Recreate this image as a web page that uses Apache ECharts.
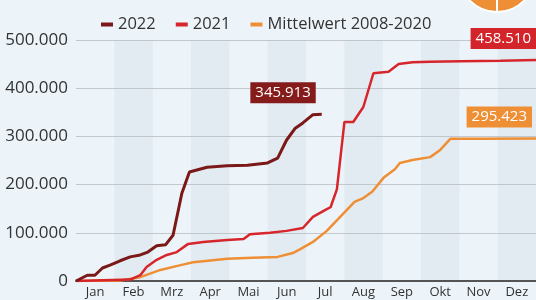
<!DOCTYPE html>
<html lang="de">
<head>
    <meta charset="UTF-8">
    <title>Waldbrand Fläche</title>
    <style type="text/css">
        html,body{margin:0;padding:0;background:#edf4f9;}
        #main{width:536px;height:300px;}
    </style>
</head>
<body>
<div id="main"></div>
<script src="https://cdn.jsdelivr.net/npm/echarts@6/dist/echarts.min.js"></script>
<script>
    // Tag im Jahr / kumulierte Fläche (Hektar)
    var months = ['Jan','Feb','Mrz','Apr','Mai','Jun','Jul','Aug','Sep','Okt','Nov','Dez'];
    var yTicks = [0, 100000, 200000, 300000, 400000, 500000];

    var days2022 = [0,9,15,21,27,35,43,51,57,64,71,77,84,90,104,120,136,152,160,167,174,180,188,195];
    var vals2022 = [0,12000,12000,27000,33000,42000,50000,54000,60000,73000,75000,95000,182000,226000,236000,239000,240000,245000,255000,292000,317000,328000,345000,345913];

    var days2021 = [0,43,51,56,64,72,80,89,101,120,133,138,154,167,180,188,199,202,207,213,220,228,236,248,256,267,281,305,337,365];
    var vals2021 = [0,3000,12000,29000,44000,54000,60000,77000,81000,85000,87000,97000,100000,104000,110000,133000,149000,153000,190000,330000,330000,361000,431000,434000,450000,454000,455000,456000,457000,458510];

    var daysMean = [0,35,51,67,83,93,120,140,160,172,178,188,199,221,228,235,244,253,257,267,281,289,297,321,365];
    var valsMean = [0,1000,8000,23000,33000,39000,46000,48000,50000,58000,66000,81000,104000,164000,172000,185000,214000,232000,245000,251000,257000,272000,295000,295200,295423];

    function fmt(v){
        return String(v).replace(/\B(?=(\d{3})+(?!\d))/g, '.');
    }

    function pairs(days, vals){
        return days.map(function(d, i){ return [d, vals[i]]; });
    }

    // Wertekasten am letzten Punkt
    function lastMark(days, vals, bg, dx){
        var n = days.length - 1;
        return {
            symbol: 'circle',
            symbolSize: 0,
            silent: true,
            label: {
                show: true,
                position: 'top',
                align: 'right',
                distance: 10,
                offset: [dx, -1],
                formatter: function(p){ return fmt(p.value); },
                color: '#fff',
                fontSize: 15,
                fontFamily: 'Open Sans',
                backgroundColor: bg,
                padding: [3, 5, 3, 5]
            },
            data: [{coord: [days[n], vals[n]], value: vals[n]}]
        };
    }

    var myChart = echarts.init(document.getElementById('main'));
    var option = {
        backgroundColor: '#edf4f9',
        animation: false,
        textStyle: {fontFamily: 'Open Sans'},
        graphic: [{
            type: 'circle',
            shape: {cx: 497, cy: -26, r: 38},
            style: {fill: '#ef8f35', stroke: '#fff', lineWidth: 2}
        }, {
            type: 'rect',
            shape: {x: 496, y: 0, width: 2, height: 12},
            style: {fill: '#fff'}
        }],
        legend: {
            top: 11,
            left: 96,
            itemWidth: 12,
            itemHeight: 4,
            itemGap: 20,
            icon: 'rect',
            textStyle: {fontSize: 16.5, color: '#333', fontFamily: 'Open Sans'},
            data: ['2022', '2021', 'Mittelwert 2008-2020']
        },
        grid: {left: 76, right: 0, top: 40, bottom: 19, containLabel: false},
        xAxis: [{
            type: 'value',
            min: 0,
            max: 365,
            axisLine: {show: true, lineStyle: {color: '#555', width: 2}},
            axisTick: {show: false},
            axisLabel: {show: false},
            splitLine: {show: false}
        }, {
            type: 'category',
            position: 'bottom',
            boundaryGap: true,
            data: months,
            axisLine: {show: false},
            axisTick: {show: false},
            axisLabel: {color: '#333', fontSize: 13, margin: 5, fontFamily: 'Open Sans'},
            splitArea: {show: true, areaStyle: {color: ['rgba(0,0,0,0)', 'rgba(170,190,208,0.16)']}},
            splitLine: {show: false}
        }],
        yAxis: {
            type: 'value',
            min: 0,
            max: 500000,
            interval: 100000,
            axisLine: {show: false},
            axisTick: {show: false},
            axisLabel: {
                color: '#333', fontSize: 17, margin: 8, fontFamily: 'Open Sans',
                formatter: function(v){ return fmt(v); }
            },
            splitLine: {lineStyle: {color: '#c4c8cc', width: 1}}
        },
        series: [{
            name: 'Mittelwert 2008-2020',
            type: 'line',
            symbol: 'none',
            z: 3,
            color: '#ef8f35',
            lineStyle: {width: 2.5},
            data: pairs(daysMean, valsMean),
            markPoint: lastMark(daysMean, valsMean, '#ef8f35', -4)
        }, {
            name: '2021',
            type: 'line',
            symbol: 'none',
            z: 4,
            color: '#d6262c',
            lineStyle: {width: 2.5},
            data: pairs(days2021, vals2021),
            markPoint: lastMark(days2021, vals2021, '#d3232b', 0)
        }, {
            name: '2022',
            type: 'line',
            symbol: 'none',
            z: 5,
            color: '#7b1818',
            lineStyle: {width: 3},
            data: pairs(days2022, vals2022),
            markPoint: lastMark(days2022, vals2022, '#861b1b', -6)
        }]
    };
    myChart.setOption(option);
</script>
</body>
</html>
